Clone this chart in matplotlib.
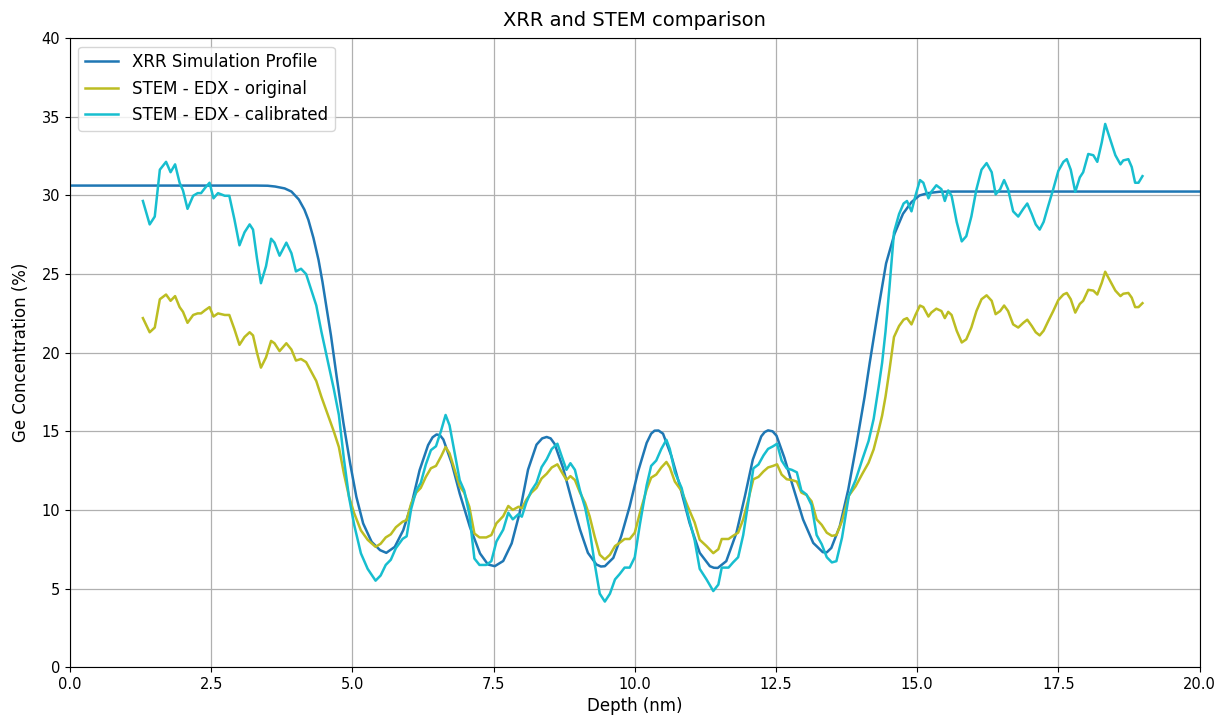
import matplotlib
matplotlib.use("Agg")
import matplotlib.pyplot as plt

# XRR simulated Ge profile (depth in nm, concentration in %)
xrr_depth = [0.0, 3.0, 3.3, 3.5, 3.63, 3.8, 3.92, 4.05, 4.15, 4.22, 4.31, 4.40, 4.47,
             4.54, 4.62, 4.72, 4.84, 4.96, 5.07, 5.19, 5.34, 5.49, 5.60, 5.75, 5.90,
             6.05, 6.19, 6.34, 6.42, 6.49, 6.55, 6.61, 6.76, 6.90, 7.08, 7.26, 7.40,
             7.52, 7.67, 7.82, 7.96, 8.11, 8.26, 8.36, 8.44, 8.51, 8.58, 8.73, 8.88,
             9.03, 9.17, 9.32, 9.40, 9.47, 9.62, 9.76, 9.91, 10.06, 10.21, 10.29,
             10.35, 10.42, 10.50, 10.65, 10.80, 10.97, 11.15, 11.33, 11.40, 11.47,
             11.62, 11.80, 11.95, 12.09, 12.24, 12.30, 12.36, 12.44, 12.51, 12.65,
             12.80, 12.98, 13.16, 13.33, 13.40, 13.48, 13.63, 13.78, 13.92, 14.07,
             14.16, 14.31, 14.45, 14.60, 14.75, 14.90, 15.04, 15.19, 15.40, 15.70,
             20.0]
xrr_ge = [30.63, 30.63, 30.63, 30.62, 30.57, 30.45, 30.25, 29.75, 29.1, 28.45, 27.3,
          25.9, 24.5, 22.9, 21.1, 18.5, 15.55, 12.95, 10.83, 9.14, 7.97, 7.44, 7.27,
          7.65, 8.71, 10.41, 12.53, 14.12, 14.62, 14.80, 14.75, 14.48, 12.95, 11.04,
          8.92, 7.23, 6.53, 6.42, 6.75, 7.87, 9.8, 12.56, 14.15, 14.55, 14.64, 14.55,
          14.2, 12.67, 10.66, 8.75, 7.27, 6.53, 6.40, 6.42, 6.95, 8.33, 10.23, 12.46,
          14.26, 14.85, 15.04, 15.05, 14.85, 13.41, 11.50, 9.17, 7.27, 6.42, 6.32,
          6.31, 6.74, 8.54, 10.87, 13.2, 14.68, 14.95, 15.06, 15.0, 14.72, 13.31,
          11.5, 9.39, 7.9, 7.31, 7.3, 7.58, 8.96, 11.29, 14.05, 17.2, 19.35, 22.72,
          25.68, 27.57, 28.84, 29.58, 30.0, 30.15, 30.24, 30.25, 30.25]

# STEM-EDX line scan depths (nm)
edx_depth = [1.29, 1.41, 1.50, 1.59, 1.70, 1.78, 1.86, 1.94, 2.00, 2.08, 2.18, 2.26,
             2.32, 2.39, 2.47, 2.54, 2.62, 2.74, 2.82, 2.91, 3.00, 3.09, 3.18, 3.24,
             3.31, 3.38, 3.47, 3.56, 3.62, 3.71, 3.83, 3.92, 4.00, 4.09, 4.18, 4.27,
             4.36, 4.45, 4.53, 4.60, 4.67, 4.76, 4.85, 4.94, 5.03, 5.15, 5.27, 5.41,
             5.50, 5.59, 5.68, 5.77, 5.89, 5.96, 6.04, 6.13, 6.21, 6.30, 6.39, 6.48,
             6.57, 6.65, 6.72, 6.81, 6.90, 6.98, 7.07, 7.16, 7.25, 7.37, 7.46, 7.55,
             7.67, 7.76, 7.84, 7.94, 8.00, 8.08, 8.17, 8.26, 8.35, 8.44, 8.53, 8.63,
             8.70, 8.79, 8.86, 8.94, 9.03, 9.12, 9.20, 9.29, 9.38, 9.47, 9.56, 9.65,
             9.73, 9.82, 9.91, 10.00, 10.09, 10.21, 10.29, 10.38, 10.47, 10.56,
             10.62, 10.71, 10.83, 10.94, 11.06, 11.15, 11.27, 11.39, 11.48, 11.54,
             11.66, 11.74, 11.83, 11.92, 12.01, 12.10, 12.19, 12.28, 12.36, 12.45,
             12.52, 12.60, 12.69, 12.78, 12.87, 12.95, 13.04, 13.13, 13.22, 13.31,
             13.40, 13.49, 13.57, 13.67, 13.79, 13.91, 14.03, 14.14, 14.23, 14.32,
             14.38, 14.44, 14.51, 14.59, 14.68, 14.76, 14.82, 14.90, 14.97, 15.05,
             15.11, 15.20, 15.25, 15.34, 15.43, 15.49, 15.55, 15.61, 15.70, 15.79,
             15.87, 15.96, 16.05, 16.14, 16.23, 16.32, 16.39, 16.47, 16.54, 16.61,
             16.70, 16.79, 16.88, 16.95, 17.03, 17.10, 17.17, 17.24, 17.32, 17.41,
             17.50, 17.59, 17.65, 17.72, 17.80, 17.88, 17.94, 18.03, 18.12, 18.19,
             18.27, 18.33, 18.42, 18.51, 18.60, 18.65, 18.74, 18.80, 18.86, 18.92,
             18.99]

# Raw EDX Ge concentration (%)
edx_original = [22.2, 21.3, 21.6, 23.4, 23.7, 23.3, 23.6, 22.9, 22.6, 21.9, 22.4, 22.5,
                22.5, 22.7, 22.9, 22.3, 22.5, 22.4, 22.4, 21.5, 20.5, 21.0, 21.3, 21.1,
                20.0, 19.05, 19.7, 20.75, 20.6, 20.1, 20.6, 20.2, 19.5, 19.6, 19.4, 18.8,
                18.2, 17.2, 16.4, 15.7, 15.0, 14.0, 12.3, 10.85, 9.8, 8.7, 8.1, 7.65,
                7.85, 8.25, 8.45, 8.9, 9.25, 9.35, 10.4, 11.1, 11.4, 12.1, 12.65, 12.8,
                13.4, 14.0, 13.6, 12.55, 11.5, 11.1, 10.2, 8.5, 8.25, 8.25, 8.4, 9.15,
                9.6, 10.25, 10.0, 10.2, 10.1, 10.65, 11.1, 11.4, 12.0, 12.3, 12.7, 12.9,
                12.45, 11.9, 12.15, 11.9, 11.1, 10.45, 9.6, 8.3, 7.15, 6.85, 7.15, 7.7,
                7.9, 8.15, 8.15, 8.55, 9.8, 11.3, 12.05, 12.25, 12.7, 13.05,
                12.7, 11.8, 11.2, 10.2, 9.2, 8.1, 7.7, 7.25, 7.5, 8.15,
                8.15, 8.35, 8.55, 9.4, 10.65, 11.95, 12.1, 12.45, 12.7, 12.8,
                12.9, 12.25, 11.95, 11.9, 11.8, 11.1, 10.95, 10.55, 9.4, 9.05,
                8.55, 8.35, 8.4, 9.3, 10.9, 11.5, 12.3, 13.0, 13.85, 15.1,
                16.0, 17.2, 18.9, 21.0, 21.7, 22.1, 22.2, 21.8, 22.4, 23.0,
                22.9, 22.3, 22.55, 22.8, 22.65, 22.2, 22.6, 22.4, 21.4, 20.65,
                20.85, 21.6, 22.65, 23.4, 23.65, 23.3, 22.45, 22.65, 23.0, 22.65,
                21.8, 21.6, 21.9, 22.1, 21.7, 21.3, 21.1, 21.4, 22.0, 22.65,
                23.35, 23.7, 23.8, 23.4, 22.55, 23.1, 23.3, 24.0, 23.95, 23.7,
                24.45, 25.15, 24.55, 23.95, 23.6, 23.75, 23.8, 23.5, 22.9, 22.9,
                23.15]

# Calibrated EDX Ge concentration (%)
edx_calibrated = [29.65, 28.16, 28.66, 31.64, 32.14, 31.48, 31.98, 30.81, 30.32, 29.15, 29.98, 30.15,
                  30.15, 30.48, 30.81, 29.82, 30.15, 29.98, 29.98, 28.49, 26.83, 27.66, 28.16, 27.83,
                  26.00, 24.42, 25.50, 27.25, 27.00, 26.17, 27.00, 26.33, 25.17, 25.34, 25.00, 24.01,
                  23.01, 21.35, 20.02, 18.86, 17.70, 16.04, 13.22, 10.81, 9.07, 7.24, 6.25, 5.50,
                  5.83, 6.50, 6.83, 7.57, 8.16, 8.32, 10.06, 11.23, 11.72, 12.89, 13.80, 14.05,
                  15.04, 16.04, 15.38, 13.63, 11.89, 11.23, 9.73, 6.91, 6.50, 6.50, 6.74, 7.99,
                  8.74, 9.82, 9.40, 9.73, 9.57, 10.48, 11.23, 11.72, 12.72, 13.22, 13.88, 14.21,
                  13.47, 12.55, 12.97, 12.55, 11.23, 10.15, 8.74, 6.58, 4.67, 4.17, 4.67, 5.58,
                  5.91, 6.33, 6.33, 6.99, 9.07, 11.56, 12.80, 13.14, 13.88, 14.46,
                  13.88, 12.39, 11.39, 9.73, 8.07, 6.25, 5.58, 4.84, 5.25, 6.33,
                  6.33, 6.66, 6.99, 8.40, 10.48, 12.64, 12.89, 13.47, 13.88, 14.05,
                  14.21, 13.14, 12.64, 12.55, 12.39, 11.23, 10.98, 10.31, 8.40, 7.82,
                  6.99, 6.66, 6.74, 8.24, 10.89, 11.89, 13.22, 14.38, 15.79, 17.87,
                  19.36, 21.35, 24.17, 27.66, 28.82, 29.49, 29.65, 28.99, 29.98, 30.98,
                  30.81, 29.82, 30.23, 30.65, 30.40, 29.65, 30.32, 29.98, 28.32, 27.08,
                  27.41, 28.66, 30.40, 31.64, 32.06, 31.48, 30.07, 30.40, 30.98, 30.40,
                  28.99, 28.66, 29.15, 29.49, 28.82, 28.16, 27.83, 28.32, 29.32, 30.40,
                  31.56, 32.14, 32.31, 31.64, 30.23, 31.15, 31.48, 32.64, 32.56, 32.14,
                  33.39, 34.55, 33.55, 32.56, 31.98, 32.23, 32.31, 31.81, 30.81, 30.81,
                  31.23]

fig = plt.figure(figsize=(12.29, 7.22), dpi=100)
ax = fig.add_axes([0.057, 0.076, 0.919, 0.871])

ax.plot(xrr_depth, xrr_ge, color="#1f77b4", lw=1.8, label="XRR Simulation Profile")
ax.plot(edx_depth, edx_original, color="#bcbd22", lw=1.8, label="STEM - EDX - original")
ax.plot(edx_depth, edx_calibrated, color="#17becf", lw=1.8, label="STEM - EDX - calibrated")

ax.set_xlim(0, 20)
ax.set_ylim(0, 40)
ax.set_xticks([0, 2.5, 5, 7.5, 10, 12.5, 15, 17.5, 20])
ax.set_yticks(range(0, 41, 5))
ax.grid(True, color="#b0b0b0", lw=0.9)
ax.set_axisbelow(True)
ax.tick_params(labelsize=10.5)

ax.set_title("XRR and STEM comparison", fontsize=14, pad=9)
ax.set_xlabel("Depth (nm)", fontsize=12)
ax.set_ylabel("Ge Concentration (%)", fontsize=12, labelpad=8)
ax.legend(loc="upper left", fontsize=12)

fig.savefig("out.png", dpi=100)
